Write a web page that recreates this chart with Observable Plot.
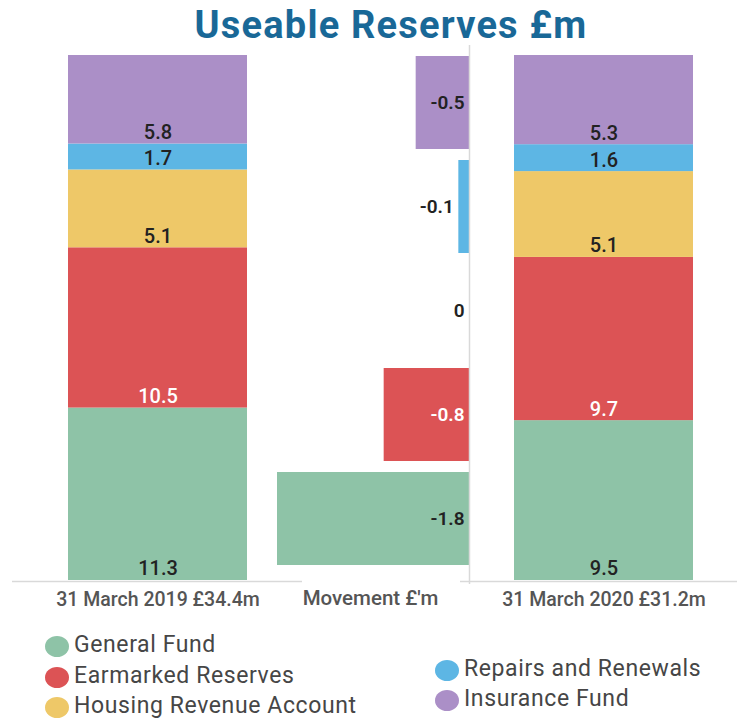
<!DOCTYPE html>
<html>
<head>
<meta charset="utf-8">
<script src="https://cdn.jsdelivr.net/npm/d3@7"></script>
<script src="https://cdn.jsdelivr.net/npm/@observablehq/plot@0.6"></script>
<style>
  html, body { margin: 0; padding: 0; background: #ffffff; }
  #root { position: relative; width: 737px; height: 719px; font-family: Roboto, sans-serif; overflow: hidden; }
  #root svg { position: absolute; top: 0; }
  .title { position: absolute; top: 6px; left: 391px; transform: translateX(-50%); white-space: nowrap;
           font: 700 38px/38px Roboto, sans-serif; letter-spacing: 1.2px; color: #196897; }
  .leg { position: absolute; white-space: nowrap; font: 400 23px/23px Roboto, sans-serif; letter-spacing: 0.6px; color: #464646; }
  .dot { position: absolute; width: 24px; height: 21px; border-radius: 50%; }
</style>
</head>
<body>
<div id="root"></div>
<script>
const categories = ["General Fund", "Earmarked Reserves", "Housing Revenue Account", "Repairs and Renewals", "Insurance Fund"];
const colors = ["#8ec3a7", "#dc5355", "#eec868", "#5db6e4", "#ab8fc7"];
const values2019 = [11.3, 10.5, 5.1, 1.7, 5.8];
const values2020 = [9.5, 9.7, 5.1, 1.6, 5.3];
const movement = [-1.8, -0.8, 0, -0.1, -0.5];
const barLabels = ["31 March 2019 £34.4m", "31 March 2020 £31.2m"];
const movementLabel = "Movement £'m";
const titleText = "Useable Reserves £m";

const root = document.getElementById("root");
const colorScale = {domain: [...categories, "light", "dark"], range: [...colors, "#ffffff", "#222222"]};
const tone = d => d.name === "Earmarked Reserves" ? "light" : "dark";
const axisFont = {fontSize: 19.5, fontWeight: 500};

function stackedPlot(values, label, o) {
  const data = categories.map((name, i) => ({name, value: values[i], period: label}));
  const svg = Plot.plot({
    width: o.width, height: 620,
    marginTop: 55, marginBottom: 40, marginLeft: o.ml, marginRight: o.mr,
    style: {background: "transparent", fontFamily: "Roboto, sans-serif", fontSize: "18px", color: "#555555", overflow: "visible"},
    x: {domain: [label], padding: o.pad, label: null},
    y: {axis: null},
    color: colorScale,
    marks: [
      Plot.barY(data, Plot.stackY({x: "period", y: "value", fill: "name", offset: "normalize"})),
      Plot.ruleY([0], {stroke: "#d9d9d9", strokeWidth: 1.5, dy: 1, insetLeft: o.inset}),
      Plot.text(data, Plot.stackY1({x: "period", y: "value", z: "name", offset: "normalize",
        text: d => d.value.toFixed(1), fill: tone, dy: -11.5, fontSize: 20, fontWeight: 500})),
      Plot.axisX({tickSize: 0, tickPadding: 12, label: null, ...axisFont})
    ]
  });
  svg.style.left = o.left + "px";
  return svg;
}

root.appendChild(stackedPlot(values2019, barLabels[0], {width: 310, ml: 12, mr: 8, pad: 0.2365, inset: 0, left: 0}));

const mdata = categories.map((name, i) => ({name, value: movement[i]}));
const mid = Plot.plot({
  width: 230, height: 620,
  marginTop: 54, marginBottom: 53, marginLeft: 27, marginRight: 11,
  style: {background: "transparent", fontFamily: "Roboto, sans-serif", fontSize: "18px", color: "#555555", overflow: "visible"},
  x: {domain: [-1.8, 0], axis: null},
  y: {domain: [...categories].reverse(), axis: null, paddingInner: 0.103, paddingOuter: 0},
  color: colorScale,
  marks: [
    Plot.barX(mdata, {x: "value", y: "name", fill: "name"}),
    Plot.ruleX([0], {stroke: "#d9d9d9", strokeWidth: 1.5, insetTop: -9, insetBottom: -17}),
    Plot.text(mdata, {x: d => (d.value < 0 && d.value > -0.3) ? d.value : 0, y: "name",
      text: d => d.value === 0 ? "0" : d.value.toFixed(1), textAnchor: "end", dx: -5,
      fill: tone, fontSize: 19, fontWeight: 600}),
    Plot.text([movementLabel], {text: d => d, frameAnchor: "bottom", dy: 37, dx: -3, fill: "#555555", fontSize: 20.5, fontWeight: 500})
  ]
});
mid.style.left = "250px";
root.appendChild(mid);

root.appendChild(stackedPlot(values2020, barLabels[1], {width: 282, ml: 15, mr: 0, pad: 0.197, inset: -10, left: 455}));

const title = document.createElement("div");
title.className = "title";
title.textContent = titleText;
root.appendChild(title);

// legend
const legendPos = [
  {x: 45, base: 652}, {x: 45, base: 683}, {x: 45, base: 713},
  {x: 435, base: 676}, {x: 435, base: 706}
];
categories.forEach((name, i) => {
  const p = legendPos[i];
  const dot = document.createElement("div");
  dot.className = "dot";
  dot.style.left = p.x + "px";
  dot.style.top = (p.base - 6 - 10.5) + "px";
  dot.style.background = colors[i];
  root.appendChild(dot);
  const t = document.createElement("div");
  t.className = "leg";
  t.style.left = (p.x + 29) + "px";
  t.style.top = (p.base - 19.4) + "px";
  t.textContent = name;
  root.appendChild(t);
});
</script>
</body>
</html>
